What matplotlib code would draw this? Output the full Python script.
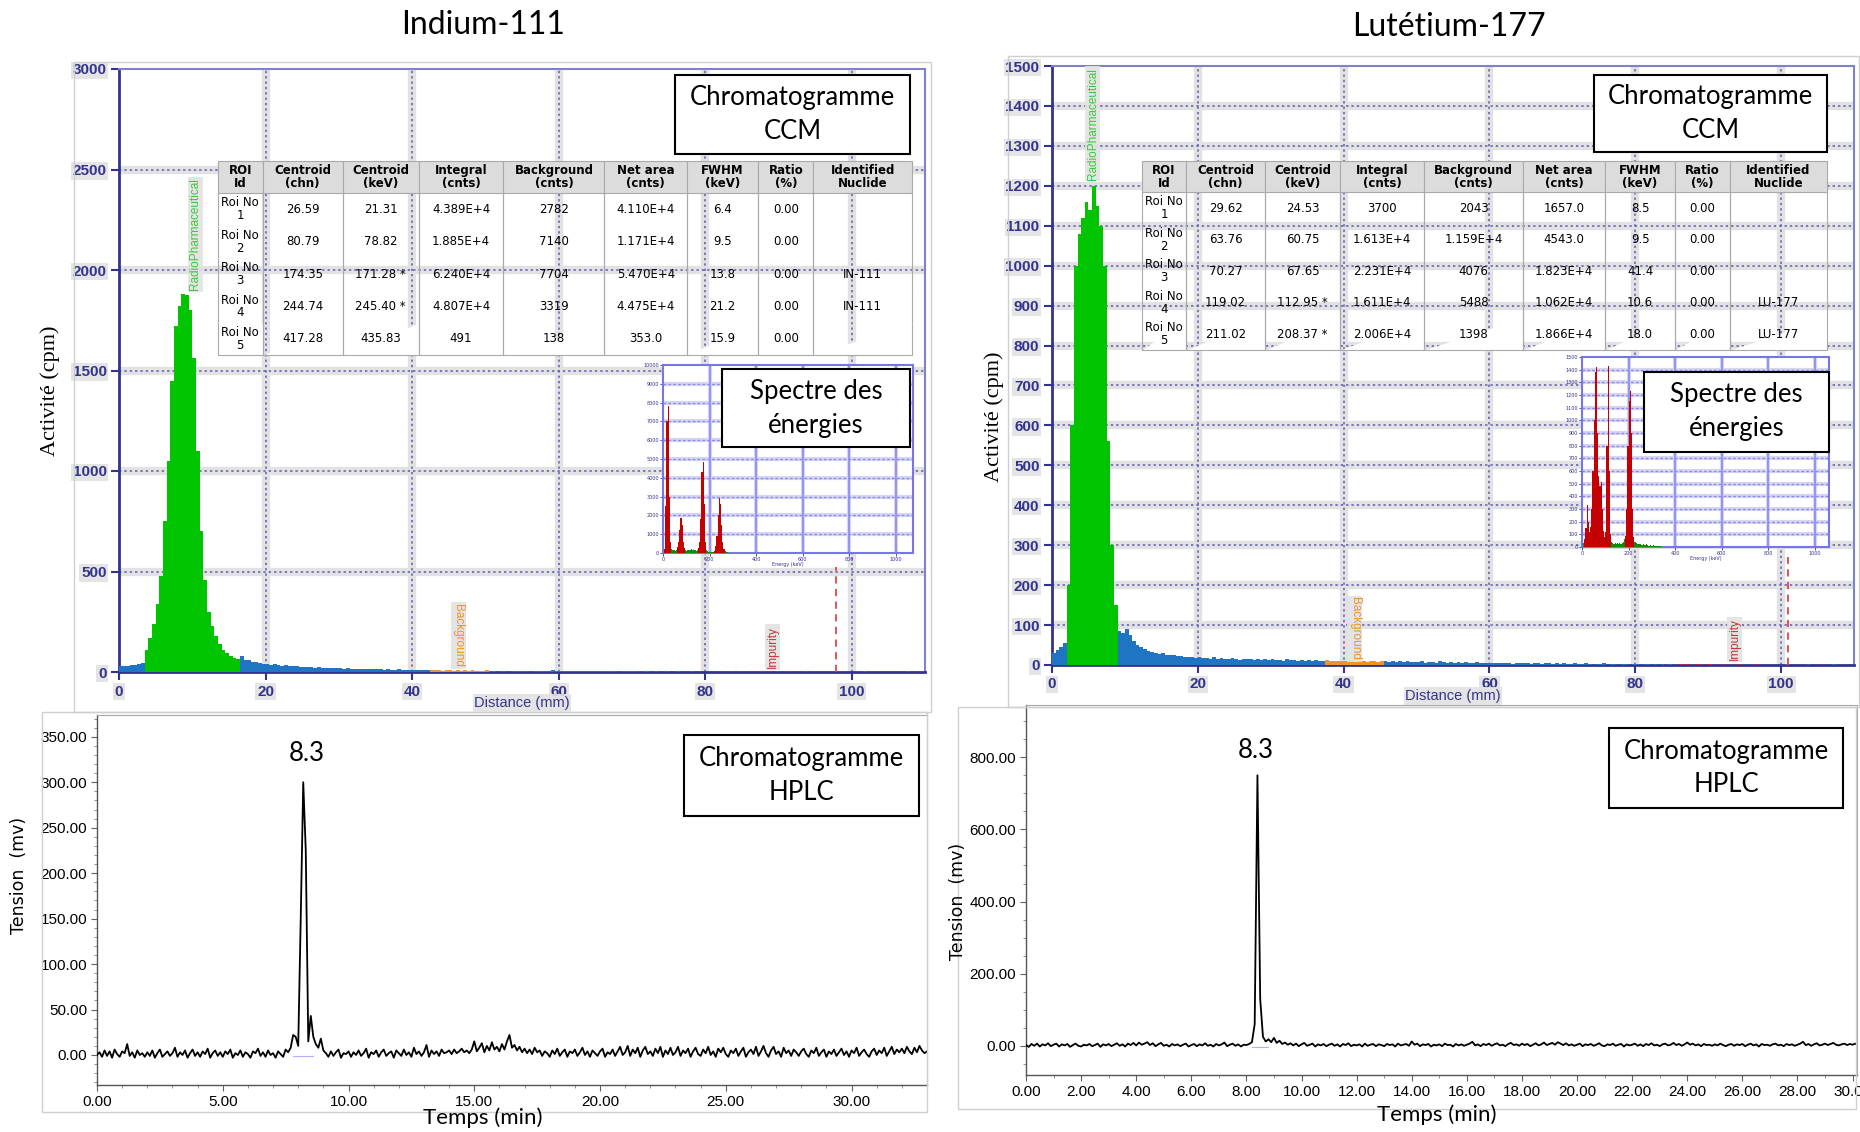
import numpy as np
import matplotlib
matplotlib.use('Agg')
import matplotlib.pyplot as plt
from matplotlib.patches import Rectangle
from matplotlib.ticker import MultipleLocator, FormatStrFormatter

W, H = 1860, 1132

# ---------------- radio-TLC profiles (cpm per 0.5 mm channel, 0 -> 110 mm) ----------------
tlc_step = 0.5
in_tlc = [
    28, 32, 30, 35, 33, 40, 45, 110, 170, 240, 340, 480, 750, 1050, 1450, 1720, 1820, 1880, 1875, 1800,
    1560, 1100, 700, 460, 300, 230, 180, 140, 110, 95, 80, 70, 65, 82, 62, 58, 52, 48, 44, 40,
    38, 36, 40, 33, 31, 34, 29, 28, 30, 26, 25, 27, 24, 22, 25, 21, 20, 22, 19, 18,
    19, 17, 18, 16, 17, 15, 16, 14, 15, 14, 13, 15, 12, 13, 12, 11, 13, 11, 10, 12,
    10, 9, 11, 9, 8, 10, 8, 9, 7, 8, 9, 7, 8, 7, 9, 6, 8, 7, 6, 7,
    8, 6, 7, 0, 6, 7, 0, 5, 6, 7, 5, 6, 0, 5, 7, 4, 6, 5, 8, 6,
    4, 5, 3, 5, 4, 6, 3, 4, 5, 3, 4, 5, 3, 4, 3, 5, 2, 4, 3, 4,
    3, 4, 2, 3, 4, 2, 3, 0, 2, 3, 0, 2, 3, 0, 2, 0, 3, 2, 0, 2,
    0, 2, 0, 0, 2, 0, 0, 0, 3, 0, 0, 2, 0, 0, 0, 3, 0, 0, 2, 0,
    0, 0, 3, 0, 0, 0, 0, 3, 0, 0, 0, 0, 2, 0, 0, 0, 0, 0, 0, 0,
    0, 0, 0, 3, 0, 0, 0, 0, 0, 0, 0, 0, 0, 0, 0, 3, 0, 0, 0, 0,
]
lu_tlc = [
    30, 38, 45, 55, 200, 600, 1000, 1080, 1120, 1160, 1140, 1200, 1150, 1100, 1000, 560, 300, 150, 85, 80,
    90, 75, 60, 50, 45, 40, 36, 33, 30, 28, 30, 26, 25, 24, 22, 23, 20, 21, 19, 18,
    20, 17, 18, 16, 19, 15, 17, 16, 14, 17, 15, 13, 16, 14, 15, 13, 14, 12, 15, 13,
    14, 12, 13, 11, 14, 12, 13, 11, 12, 10, 13, 11, 12, 10, 11, 12, 10, 11, 9, 11,
    10, 9, 11, 8, 10, 9, 8, 10, 9, 8, 10, 9, 8, 9, 7, 10, 8, 9, 7, 8,
    7, 9, 6, 8, 7, 6, 9, 7, 6, 8, 6, 7, 5, 7, 6, 5, 7, 6, 5, 6,
    5, 4, 6, 5, 4, 5, 3, 5, 4, 6, 4, 3, 5, 4, 3, 5, 4, 3, 4, 3,
    4, 3, 2, 4, 3, 2, 4, 3, 0, 3, 2, 4, 0, 3, 2, 0, 3, 2, 0, 3,
    2, 0, 3, 2, 0, 2, 0, 3, 0, 2, 0, 0, 3, 0, 2, 0, 0, 3, 0, 0,
    2, 0, 0, 0, 3, 0, 0, 0, 2, 0, 0, 0, 0, 2, 0, 0, 0, 0, 0, 0,
    0, 3, 0, 0, 0, 0, 0, 3, 0, 0, 0, 0, 0, 0, 3, 0, 0, 0, 0, 0,
]
in_peak_roi, in_bkg_roi, in_imp_roi = (3.5, 16.5), (42.5, 50.5), (84.0, 98.0)
lu_peak_roi, lu_bkg_roi, lu_imp_roi = (2.0, 9.0), (37.5, 45.5), (85.0, 100.0)
in_imp_line, lu_imp_line = 97.8, 101.0

# ---------------- gamma spectra in the insets (counts per 5 keV bin) ----------------
spec_step = 5
in_spec = [
    0, 200, 2500, 7000, 7800, 3000, 600, 200, 150, 150,
    120, 180, 300, 600, 1200, 1850, 1500, 600, 250, 150,
    120, 140, 180, 150, 200, 160, 180, 150, 120, 150,
    250, 600, 1800, 4300, 4850, 2600, 600, 150, 80, 60,
    50, 60, 50, 70, 120, 350, 900, 2000, 2950, 2600,
    1500, 600, 200, 80, 40, 30, 20, 20, 10, 10,
]
lu_spec = [
    0, 30, 60, 150, 330, 200, 120, 160, 300, 600,
    1000, 1380, 1425, 900, 560, 480, 515, 300, 130, 80,
    120, 800, 1430, 600, 100, 40, 30, 25, 30, 25,
    30, 25, 30, 25, 30, 40, 60, 90, 300, 800,
    1150, 1230, 900, 300, 80, 40, 30, 25, 20, 25,
    20, 15, 20, 15, 15, 20, 15, 10, 15, 10,
    10, 15, 10, 10, 5, 10, 5, 5,
]
in_spec_rois = [(5, 35), (60, 95), (150, 185), (220, 265)]
lu_spec_rois = [(10, 125), (185, 225)]

# ---------------- ROI tables ----------------
col_labels = ['ROI\nId', 'Centroid\n(chn)', 'Centroid\n(keV)', 'Integral\n(cnts)', 'Background\n(cnts)',
              'Net area\n(cnts)', 'FWHM\n(keV)', 'Ratio\n(%)', 'Identified\nNuclide']
roi_ids = ['Roi No\n1', 'Roi No\n2', 'Roi No\n3', 'Roi No\n4', 'Roi No\n5']
in_chn = ['26.59', '80.79', '174.35', '244.74', '417.28']
in_kev = ['21.31', '78.82', '171.28 *', '245.40 *', '435.83']
in_integral = ['4.389E+4', '1.885E+4', '6.240E+4', '4.807E+4', '491']
in_background = ['2782', '7140', '7704', '3319', '138']
in_net = ['4.110E+4', '1.171E+4', '5.470E+4', '4.475E+4', '353.0']
in_fwhm = ['6.4', '9.5', '13.8', '21.2', '15.9']
in_ratio = ['0.00', '0.00', '0.00', '0.00', '0.00']
in_nuclide = ['', '', 'IN-111', 'IN-111', '']
lu_chn = ['29.62', '63.76', '70.27', '119.02', '211.02']
lu_kev = ['24.53', '60.75', '67.65', '112.95 *', '208.37 *']
lu_integral = ['3700', '1.613E+4', '2.231E+4', '1.611E+4', '2.006E+4']
lu_background = ['2043', '1.159E+4', '4076', '5488', '1398']
lu_net = ['1657.0', '4543.0', '1.823E+4', '1.062E+4', '1.866E+4']
lu_fwhm = ['8.5', '9.5', '41.4', '10.6', '18.0']
lu_ratio = ['0.00', '0.00', '0.00', '0.00', '0.00']
lu_nuclide = ['', '', '', 'LU-177', 'LU-177']

# ---------------- HPLC traces (mV every 0.1 min) ----------------
hplc_dt = 0.1
in_hplc = [
    0, 3, -2, 5, -1, 4, -3, 6, 1, -2,
    4, 2, 12, -1, 3, -3, 5, 0, 2, -2,
    3, -1, 5, -3, 2, 6, -2, 1, 4, -1,
    2, 8, -2, 3, 0, 5, -3, 2, 6, -1,
    3, -2, 4, 1, 7, -3, 2, 5, -1, 3,
    -2, 4, 1, 6, -3, 2, 0, 5, -2, 3,
    1, -3, 4, 2, 7, -1, 3, -2, 5, 0,
    2, -3, 4, 1, -2, 6, 3, 8, 22, 20,
    10, 150, 300, 225, 15, 43, 20, 12, 8, 18,
    5, 2, -2, 4, -1, 3, 6, -3, 2, 1,
    4, -2, 3, 0, 5, -1, 2, 7, -3, 3,
    1, 5, -2, 3, 6, -1, 2, 4, -3, 5,
    2, -1, 6, 0, 3, -2, 8, 1, 4, -1,
    3, 11, -2, 5, 1, 4, -1, 6, 2, 3,
    5, 1, 6, 2, 4, 7, 3, 5, 2, 6,
    15, 4, 8, 13, 3, 10, 5, 14, 6, 9,
    4, 12, 6, 15, 22, 8, 11, 5, 9, 3,
    7, 2, 6, 1, 8, 3, 5, -1, 4, 2,
    -2, 5, 1, 7, -1, 3, 6, -2, 4, 2,
    6, -1, 3, 8, 0, 4, -2, 5, 2, -1,
    4, 7, -2, 3, 1, 6, -1, 4, 9, 0,
    3, 10, -1, 6, 2, 8, -2, 5, 9, 1,
    4, -1, 7, 2, 9, -2, 5, 1, 8, 0,
    3, 9, -1, 5, 2, 7, -2, 4, 8, 1,
    -1, 6, 2, 9, 0, 4, -2, 7, 3, 8,
    1, -2, 5, 2, 7, -1, 4, 8, -2, 3,
    6, 1, 9, -1, 4, 10, 2, -2, 5, 9,
    1, 4, -2, 8, 2, 5, -1, 6, 3, -1,
    4, 7, 1, -2, 5, 2, 8, -1, 3, 6,
    -2, 4, 1, 6, -1, 3, 7, 0, 4, -2,
    5, 2, 8, -1, 3, 6, 1, -2, 4, 7,
    0, 5, 2, 8, -1, 4, 9, 1, 6, 3,
    7, 2, 9, 4, 1, 8, 3, 10, 5, 2,
    4,
]
lu_hplc = [
    2, -3, 5, 0, 6, -2, 4, 1, 7, -1,
    3, 6, -2, 4, 1, 5, -3, 2, 6, 0,
    -2, 3, 1, 5, -1, 2, 6, -3, 4, 1,
    5, -1, 3, 7, 0, 4, -2, 6, 2, 8,
    1, 9, 3, 6, 10, 2, 7, -1, 4, 8,
    0, 3, -2, 5, 1, 4, -1, 3, 6, -2,
    2, 5, -1, 4, 1, 7, 0, 3, -2, 5,
    1, 4, 9, -1, 3, 6, 0, 4, -2, 3,
    2, 5, 10, 60, 750, 130, 25, 12, 18, 10,
    22, 8, 14, 5, 9, 3, 7, 1, 6, -1,
    4, 8, 0, 3, 6, -2, 4, 1, 5, -1,
    3, 6, 0, 4, -2, 5, 2, 7, -1, 3,
    1, 4, -2, 6, 0, 3, 5, -1, 4, 2,
    -1, 5, 2, 4, -2, 6, 1, 3, 5, 0,
    12, 3, 6, -1, 4, 2, 5, -2, 3, 1,
    4, -1, 6, 2, 3, -2, 5, 1, 4, 0,
    3, 6, 11, 1, 4, -1, 5, 2, 6, 0,
    4, 7, 1, 3, -1, 5, 8, 2, 4, 0,
    6, 2, 5, -1, 3, 7, 1, 4, 9, 2,
    5, 8, 3, 10, 6, 2, 7, 1, 4, 0,
    3, 6, -1, 4, 2, 5, 0, 3, 7, 1,
    -1, 4, 2, 6, 0, 3, 5, -2, 4, 1,
    3, 6, 0, 4, -1, 5, 2, 7, 1, 3,
    -1, 4, 6, 1, 3, 8, 2, 5, 0, 4,
    9, 3, 6, 1, 4, -1, 5, 2, 3, 0,
    4, 1, 6, 2, -1, 3, 5, 0, 4, 2,
    5, -1, 3, 6, 1, 4, -2, 5, 2, 3,
    0, 4, 6, 1, 3, -1, 5, 2, 4, 0,
    3, 6, 11, 2, 5, 0, 4, 7, 1, 3,
    6, 2, 5, 8, 3, 1, 4, 6, 2, 5,
    3, 6, 2,
]
in_base_t, in_base_mv = [7.8, 8.6], [-1, -1]
lu_base_t, lu_base_mv = [8.2, 8.8], [-2, -2]
peak_label = '8.3'

NAVY = '#33338f'
GRIDC = '#5a5ab0'
HALO = '#e2e2e2'


def px_rect(l, t, r, b):
    return [l / W, 1 - b / H, (r - l) / W, (b - t) / H]


def halo(pad=1.2):
    return dict(facecolor=HALO, edgecolor='none', pad=pad, alpha=0.9)


def tlc_panel(rect, counts, peak_roi, bkg_roi, imp_roi, ymax, ystep, imp_x, imp_top, pharma_xy, bkg_xy, imp_xy):
    ax = fig.add_axes(rect)
    x = np.arange(len(counts)) * tlc_step + tlc_step / 2
    colors = []
    for xi in x:
        if peak_roi[0] <= xi <= peak_roi[1]:
            colors.append('#00c400')
        elif bkg_roi[0] <= xi <= bkg_roi[1]:
            colors.append('#f0922b')
        elif imp_roi[0] <= xi <= imp_roi[1]:
            colors.append('#c8283c')
        else:
            colors.append('#1f74c4')
    ax.bar(x, counts, width=tlc_step, color=colors, linewidth=0, zorder=3)
    ax.set_xlim(0, 110)
    ax.set_ylim(0, ymax)
    yt = np.arange(0, ymax + 1, ystep)
    xt = np.arange(0, 101, 20)
    for v in yt[1:-1]:
        ax.axhline(v, color=HALO, lw=6, zorder=1)
        ax.axhline(v, color=GRIDC, lw=1.1, ls=(0, (1.5, 2)), zorder=2)
    for v in xt[1:]:
        ax.axvline(v, color=HALO, lw=6, zorder=1)
        ax.axvline(v, color=GRIDC, lw=1.1, ls=(0, (1.5, 2)), zorder=2)
    ax.set_xticks(xt)
    ax.set_yticks(yt)
    ax.tick_params(colors=NAVY, labelsize=11, length=6, width=1.5, pad=3)
    for lab in ax.get_xticklabels() + ax.get_yticklabels():
        lab.set_fontweight('bold')
        lab.set_family('Liberation Sans')
        lab.set_bbox(halo())
    for s in ['left', 'bottom']:
        ax.spines[s].set_color(NAVY)
        ax.spines[s].set_linewidth(2)
    for s in ['top', 'right']:
        ax.spines[s].set_color('#8080cc')
        ax.spines[s].set_linewidth(1.5)
    ax.plot([imp_x, imp_x], [0, imp_top], color='#e0464b', ls=(0, (4, 3)), lw=1.3, zorder=4)
    ax.text(pharma_xy[0], pharma_xy[1], 'RadioPharmaceutical', rotation=90, color='#3cc83c',
            fontsize=8.5, family='Liberation Sans', ha='center', va='bottom', bbox=halo(), zorder=4)
    ax.text(bkg_xy[0], bkg_xy[1], 'Background', rotation=-90, color='#f0922b',
            fontsize=8.5, family='Liberation Sans', ha='center', va='bottom', bbox=halo(), zorder=4)
    ax.text(imp_xy[0], imp_xy[1], 'Impurity', rotation=90, color='#c03838',
            fontsize=8.5, family='Liberation Sans', ha='center', va='bottom', bbox=halo(), zorder=4)
    return ax


def spec_inset(rect, counts, rois, xmax, ymax, ystep):
    iax = fig.add_axes(rect, zorder=5)
    kev = np.arange(len(counts)) * spec_step + spec_step / 2
    colors = []
    for k in kev:
        red = any(a <= k <= b for a, b in rois)
        colors.append('#c40000' if red else '#108a10')
    iax.bar(kev, counts, width=spec_step, color=colors, linewidth=0, zorder=3)
    iax.set_xlim(0, xmax)
    iax.set_ylim(0, ymax)
    yt = np.arange(0, ymax + 1, ystep)
    xt = np.arange(0, 1001, 200)
    for v in yt[1:-1]:
        iax.axhline(v, color='#d6d6f0', lw=3, zorder=1)
        iax.axhline(v, color='#8a8af0', lw=1, ls=(0, (2, 1.5)), zorder=2)
    for v in xt[1:]:
        iax.axvline(v, color='#d6d6f0', lw=3, zorder=1)
        iax.axvline(v, color='#8a8af0', lw=1.2, zorder=2)
    iax.set_xticks(xt)
    iax.set_yticks(yt)
    iax.tick_params(colors=NAVY, labelsize=3.5, length=2, width=0.6, pad=1)
    iax.set_xlabel('Energy (keV)', fontsize=3.5, color=NAVY, labelpad=0)
    for s in iax.spines.values():
        s.set_color('#7676e6')
        s.set_linewidth(1.5)
    return iax


def roi_table(rect, cols):
    tax = fig.add_axes(rect, zorder=4)
    tax.axis('off')
    rows = [list(r) for r in zip(*cols)]
    tb = tax.table(cellText=rows, colLabels=col_labels, cellLoc='center', bbox=[0, 0, 1, 1],
                   colWidths=[97, 175, 165, 185, 220, 180, 155, 120, 215])
    tb.auto_set_font_size(False)
    tb.set_fontsize(8.5)
    for (r, c), cell in tb.get_celld().items():
        cell.set_edgecolor('#a9a9a9')
        cell.set_linewidth(0.8)
        cell.PAD = 0.03
        cell.get_text().set_linespacing(1.0)
        if r == 0:
            cell.set_facecolor('#dcdcdc')
            cell.get_text().set_fontweight('bold')
        else:
            cell.set_facecolor('white')
            cell.visible_edges = 'LRB' if r == len(rows) else 'LR'
    return tax


def hplc_panel(rect, mv, xmax, ylim, xmaj, xmin_, ymaj, ymin_, lbl_xy, base_t, base_mv):
    ax = fig.add_axes(rect)
    t = np.arange(len(mv)) * hplc_dt
    ax.plot(base_t, base_mv, color='#b0b0ff', lw=0.8, zorder=2)
    ax.plot(t, mv, color='black', lw=1.3, zorder=3)
    ax.set_xlim(0, xmax)
    ax.set_ylim(*ylim)
    ax.xaxis.set_major_locator(MultipleLocator(xmaj))
    ax.xaxis.set_minor_locator(MultipleLocator(xmin_))
    ax.yaxis.set_major_locator(MultipleLocator(ymaj))
    ax.yaxis.set_minor_locator(MultipleLocator(ymin_))
    ax.xaxis.set_major_formatter(FormatStrFormatter('%.2f'))
    ax.yaxis.set_major_formatter(FormatStrFormatter('%.2f'))
    ax.tick_params(which='major', length=4, width=0.8, color='#606060', labelsize=11, pad=3)
    ax.tick_params(which='minor', length=2.5, width=0.6, color='#808080')
    for lab in ax.get_xticklabels() + ax.get_yticklabels():
        lab.set_family(['Liberation Sans Narrow', 'Liberation Sans'])
    for s in ['left', 'bottom']:
        ax.spines[s].set_color('#555555')
        ax.spines[s].set_linewidth(1)
    for s in ['top', 'right']:
        ax.spines[s].set_color('#a8a8a8')
        ax.spines[s].set_linewidth(0.8)
    ax.text(lbl_xy[0], lbl_xy[1], peak_label, ha='center', va='center', fontsize=18.5, family='Lato')
    return ax


def note_box(l, t, r, b, txt, fs=18.5):
    fig.add_artist(Rectangle((l / W, 1 - b / H), (r - l) / W, (b - t) / H, transform=fig.transFigure,
                             facecolor='white', edgecolor='black', lw=1.5, zorder=10))
    fig.text((l + r) / 2 / W, 1 - (t + b) / 2 / H, txt, ha='center', va='center', fontsize=fs,
             family='Lato', linespacing=1.45, zorder=11)


def frame(l, t, r, b):
    fig.add_artist(Rectangle((l / W, 1 - b / H), (r - l) / W, (b - t) / H, transform=fig.transFigure,
                             facecolor='none', edgecolor='#cfcfcf', lw=1, zorder=1))


fig = plt.figure(figsize=(W / 100, H / 100), dpi=100)
fig.patch.set_facecolor('white')

frame(74, 62, 931, 712)
frame(1008, 56, 1859, 707)
frame(42, 712, 927, 1112)
frame(958, 707, 1856, 1109)

# TLC panels
ax1 = tlc_panel(px_rect(119, 69, 925, 672), in_tlc, in_peak_roi, in_bkg_roi, in_imp_roi,
                3000, 500, in_imp_line, 520, (10.4, 1900), (46.3, 25), (89.2, 20))
ax2 = tlc_panel(px_rect(1052, 66, 1854, 665), lu_tlc, lu_peak_roi, lu_bkg_roi, lu_imp_roi,
                1500, 100, lu_imp_line, 270, (5.6, 1215), (41.5, 12), (93.6, 12))
fig.text(522 / W, 1 - 703 / H, 'Distance (mm)', ha='center', va='center', fontsize=10.5,
         color=NAVY, family='Liberation Sans', bbox=halo())
fig.text(1453 / W, 1 - 696 / H, 'Distance (mm)', ha='center', va='center', fontsize=10.5,
         color=NAVY, family='Liberation Sans', bbox=halo())

# ROI tables
roi_table(px_rect(218, 161, 912, 355), [roi_ids, in_chn, in_kev, in_integral, in_background,
                                        in_net, in_fwhm, in_ratio, in_nuclide])
roi_table(px_rect(1142, 161, 1827, 350), [roi_ids, lu_chn, lu_kev, lu_integral, lu_background,
                                          lu_net, lu_fwhm, lu_ratio, lu_nuclide])

# energy spectrum insets
spec_inset(px_rect(663, 365, 913, 553), in_spec, in_spec_rois, 1075, 10000, 1000)
spec_inset(px_rect(1582, 357, 1829, 547), lu_spec, lu_spec_rois, 1060, 1500, 100)

# HPLC panels
hplc_panel(px_rect(97, 715, 927, 1085), in_hplc, 33.0, (-33, 374), 5, 1, 50, 10,
           (8.35, 332), in_base_t, in_base_mv)
hplc_panel(px_rect(1026, 705, 1857, 1075), lu_hplc, 30.16, (-81, 945), 2, 1, 200, 50,
           (8.35, 820), lu_base_t, lu_base_mv)

# annotation boxes
note_box(675, 75, 910, 154, 'Chromatogramme\nCCM')
note_box(1594, 75, 1827, 152, 'Chromatogramme\nCCM')
note_box(722, 369, 910, 447, 'Spectre des\nénergies')
note_box(1644, 372, 1829, 452, 'Spectre des\nénergies')
note_box(684, 735, 919, 816, 'Chromatogramme\nHPLC')
note_box(1609, 728, 1843, 808, 'Chromatogramme\nHPLC')

# titles and axis labels
fig.text(483 / W, 1 - 25 / H, 'Indium-111', ha='center', va='center', fontsize=23, family='Lato')
fig.text(1449 / W, 1 - 27 / H, 'Lutétium-177', ha='center', va='center', fontsize=23, family='Lato')
fig.text(50 / W, 1 - 391 / H, 'Activité (cpm)', rotation=90, ha='center', va='center',
         fontsize=16, family='Liberation Serif')
fig.text(994 / W, 1 - 417 / H, 'Activité (cpm)', rotation=90, ha='center', va='center',
         fontsize=16, family='Liberation Serif')
fig.text(19 / W, 1 - 875 / H, 'Tension  (mv)', rotation=90, ha='center', va='center',
         fontsize=12.5, family='DejaVu Sans')
fig.text(958 / W, 1 - 901 / H, 'Tension  (mv)', rotation=90, ha='center', va='center',
         fontsize=12.5, family='DejaVu Sans')
fig.text(483 / W, 1 - 1118 / H, 'Temps (min)', ha='center', va='center', fontsize=16, family='Lato')
fig.text(1437 / W, 1 - 1115 / H, 'Temps (min)', ha='center', va='center', fontsize=16, family='Lato')

fig.savefig('out.png', dpi=100, facecolor='white')
